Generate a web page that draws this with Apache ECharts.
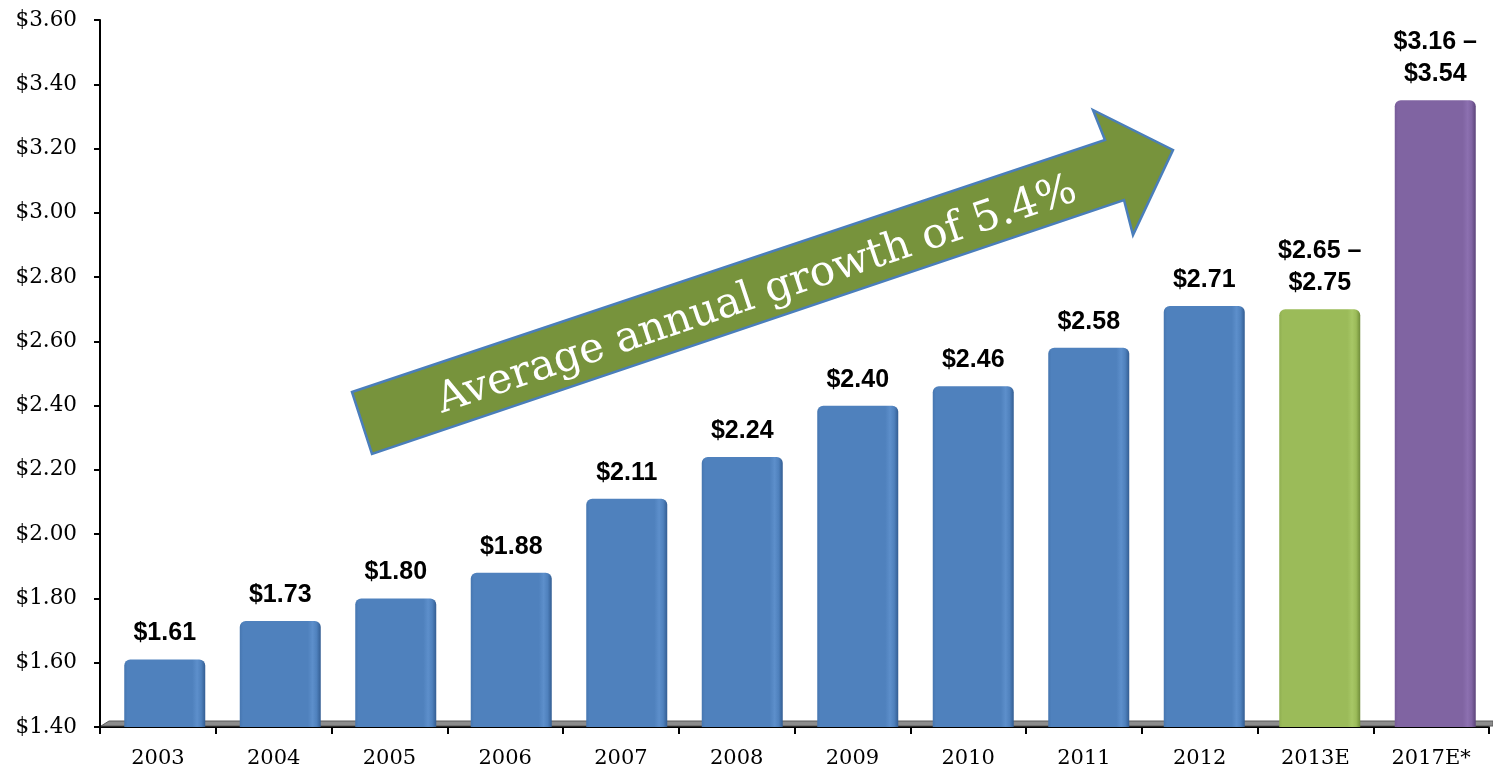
<!DOCTYPE html>
<html>
<head>
<meta charset="utf-8">
<script src="https://cdn.jsdelivr.net/npm/echarts@6/dist/echarts.min.js"></script>
<style>
html,body{margin:0;padding:0;background:#fff;}
#chart{width:1493px;height:772px;}
</style>
</head>
<body>
<div id="chart"></div>
<script>
// ---- data ----
const years = ['2003','2004','2005','2006','2007','2008','2009','2010','2011','2012','2013E','2017E*'];
const barValues = [1.61,1.73,1.80,1.88,2.11,2.24,2.40,2.46,2.58,2.71,2.70,3.35];
const labelLow  = [1.61,1.73,1.80,1.88,2.11,2.24,2.40,2.46,2.58,2.71,2.65,3.16];
const labelHigh = [null,null,null,null,null,null,null,null,null,null,2.75,3.54];
const barKinds  = ['actual','actual','actual','actual','actual','actual','actual','actual','actual','actual','estimate','longterm'];
const yMin = 1.40, yMax = 3.60, yStep = 0.20;
const arrowText = 'Average annual growth of 5.4%';

// ---- styles ----
const palette = {
  actual:   {base:'#4f81bd', edgeL:'#4676b0', hi:'#5d8fcb', dark:'#335d92'},
  estimate: {base:'#9bbb59', edgeL:'#8fae50', hi:'#a7c766', dark:'#6f8c3a'},
  longterm: {base:'#8064a2', edgeL:'#765a98', hi:'#8c70b0', dark:'#5b4379'}
};
function grad(k){
  const p = palette[k];
  return new echarts.graphic.LinearGradient(0,0,1,0,[
    {offset:0, color:p.edgeL},{offset:0.04, color:p.base},
    {offset:0.84, color:p.base},{offset:0.9, color:p.hi},
    {offset:0.95, color:p.base},{offset:1, color:p.dark}
  ]);
}
const fmt = v => '$' + v.toFixed(2);

const chart = echarts.init(document.getElementById('chart'), null, {renderer:'canvas'});
const gridW = 1389;
const option = {
  animation:false,
  backgroundColor:'#ffffff',
  grid:[
    {left:100, top:20, width:gridW, bottom:45},
    {left:107, top:20, width:gridW, bottom:45}
  ],
  xAxis:[
    {type:'category', gridIndex:0, data:years,
     axisLine:{lineStyle:{color:'#000', width:2}},
     axisTick:{show:true, length:7, lineStyle:{color:'#000', width:2}},
     axisLabel:{color:'#000', fontFamily:'DejaVu Serif', fontSize:21, margin:21}},
    {type:'category', gridIndex:1, data:years, show:false}
  ],
  yAxis:[
    {type:'value', gridIndex:0, min:yMin, max:yMax, interval:yStep,
     axisLine:{show:true, lineStyle:{color:'#000', width:2}},
     axisTick:{show:true, length:6, lineStyle:{color:'#000', width:2}},
     splitLine:{show:false},
     axisLabel:{color:'#000', fontFamily:'DejaVu Serif', fontSize:21.5, margin:23, formatter:fmt}},
    {type:'value', gridIndex:1, min:yMin, max:yMax, interval:yStep, show:false, splitLine:{show:false}}
  ],
  series:[{
    type:'bar', xAxisIndex:1, yAxisIndex:1, barWidth:81,
    data: barValues.map((v,i)=>({value:v, itemStyle:{color:grad(barKinds[i]), borderRadius:[6,6,0,0]}})),
    label:{show:true, position:'top', distance:10, color:'#000',
      fontFamily:'Liberation Sans', fontWeight:'bold', fontSize:25, lineHeight:32, align:'center',
      formatter: p => labelHigh[p.dataIndex] == null ? fmt(labelLow[p.dataIndex])
                       : fmt(labelLow[p.dataIndex]) + ' \u2013\n' + fmt(labelHigh[p.dataIndex])}
  }]
};
chart.setOption(option);

// floor + arrow decorations
const b0 = chart.convertToPixel({gridIndex:0}, [0, yMin]);
const floorY = b0[1];
const arrowPts = [[352,392],[1105,140],[1093,110],[1173,150],[1133,235],[1124,200],[372,454]];
chart.setOption({
  graphic:[
    {type:'polygon', z:1, shape:{points:[[101,floorY-1],[109,floorY-6],[1493,floorY-6],[1493,floorY-1]]},
     style:{fill:'#8c8c8c', stroke:'#5a5a5a', lineWidth:1}},
    {type:'polygon', z:50, shape:{points:arrowPts},
     style:{fill:'#77933c', stroke:'#4a7ebb', lineWidth:2.5}},
    {type:'text', z:51, x:757, y:296, rotation:18.5*Math.PI/180,
     style:{text:arrowText, fill:'#ffffff', font:'42px "DejaVu Serif"', align:'center', verticalAlign:'middle'}}
  ]
});
</script>
</body>
</html>
